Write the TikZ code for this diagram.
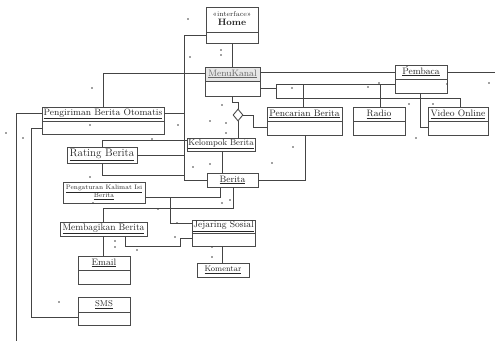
\documentclass[tikz,border=0pt]{standalone}
\usepackage{fontspec}
\usetikzlibrary{shapes.geometric,calc}
\definecolor{boxgray}{HTML}{4A4A4A}
\definecolor{wiregray}{HTML}{444444}
\definecolor{txtgray}{HTML}{262626}
\definecolor{dotgray}{HTML}{444444}
\definecolor{hdrgray}{HTML}{E6E6E6}

% class box with a header compartment: name, x1, y1, x2, y2, separator y, label
\newcommand\umlclass[7]{%
  \node[umlbox, anchor=north west, minimum width={(#4-#2)*1pt}, minimum height={(#5-#3)*1pt}] (#1) at (#2,#3) {};
  \draw[boxline] (#2,#6) -- (#4,#6);
  \node[lbl] at ({(#2+#4)/2},{(#3+#6)/2}) {#7};}
% single-compartment box: name, x1, y1, x2, y2, label
\newcommand\umlplain[6]{%
  \node[umlbox, anchor=north west, minimum width={(#4-#2)*1pt}, minimum height={(#5-#3)*1pt}] (#1) at (#2,#3) {};
  \node[lbl] at ({(#2+#4)/2},{(#3+#5)/2}) {#6};}
\newcommand\uname[1]{\underline{#1}}

\begin{document}
\begin{tikzpicture}[x=1pt,y=-1pt,
  umlbox/.style={draw=boxgray, line width=0.95pt, fill=white, inner sep=0pt, outer sep=0pt},
  boxline/.style={draw=boxgray, line width=0.95pt},
  wire/.style={draw=wiregray, line width=0.85pt},
  lbl/.style={inner sep=0pt, text=txtgray, font=\fontsize{9.3}{10}\selectfont},
  dotmark/.style={fill=dotgray}]
\fill[white] (0,0) rectangle (495,341);
\useasboundingbox (0,0) rectangle (495,341);

% ---- classes ----
\node[umlbox, anchor=north west, minimum width=52pt, minimum height=36pt] (home) at (206,7) {};
\draw[boxline] (206,32) -- (258,32);
\node[lbl, align=center] at (232,19) {{\fontsize{7}{7.5}\selectfont «interface»}\\[-1pt]{\bfseries Home}};

\node[umlbox, anchor=north west, minimum width=55pt, minimum height=29pt] (menu) at (205,67) {};
\fill[hdrgray] (205.5,67.5) rectangle (259.5,81);
\draw[boxline] (205,81) -- (260,81);
\node[lbl, text=black!60] at (232.5,74) {\uname{MenuKanal}};

\umlclass{pembaca}{395}{65}{447}{93}{79}{\uname{Pembaca}}
\umlclass{pengiriman}{42}{107}{164}{134}{121}{\uname{Pengiriman Berita Otomatis}}
\umlclass{pencarian}{267}{107}{342}{135}{121}{\uname{Pencarian Berita}}
\umlclass{radio}{353}{107}{405}{135}{121}{\uname{Radio}}
\umlclass{video}{428}{107}{488}{135}{121}{\uname{Video Online}}
\umlplain{kelompok}{187}{138}{255}{151}{\fontsize{8.5}{9}\selectfont\uname{Kelompok Berita}}
\umlplain{rating}{67}{147}{137}{163}{\fontsize{11}{12}\selectfont\uname{Rating Berita}}
\umlplain{berita}{207}{173}{258}{187}{\uname{Berita}}
\node[umlbox, anchor=north west, minimum width=82pt, minimum height=21pt] (pengaturan) at (63,182) {};
\node[lbl, align=center, font=\fontsize{6.5}{8}\selectfont] at (104,192.5) {\uname{Pengaturan Kalimat Isi}\\\uname{Berita}};
\umlplain{membagikan}{60}{222}{147}{236}{\fontsize{9.5}{10}\selectfont\uname{Membagikan Berita}}
\umlclass{jejaring}{192}{220}{255}{246}{233}{\uname{Jejaring Sosial}}
\umlclass{email}{78}{256}{130}{284}{270}{\uname{Email}}
\umlclass{sms}{78}{297}{130}{325}{312}{\fontsize{8.5}{9}\selectfont\uname{SMS}}
\umlplain{komentar}{197}{263}{249}{277}{\fontsize{8}{9}\selectfont\uname{Komentar}}

% aggregation diamond below MenuKanal
\node[draw=boxgray, fill=white, diamond, line width=0.9pt, minimum width=10pt, minimum height=12pt, inner sep=0pt] (agg) at (238,115) {};

% free ends leaving the sheet
\coordinate (exitS) at (16,341);
\coordinate (exitE) at (495,72);
\coordinate (tap) at (170,197);

% ---- connectors ----
\draw[wire] (home.south) -- (home.south |- menu.north);
\draw[wire] (home.west |- 0,35) -- (184,35) -- (184,180) -- (berita.west |- 0,180);
\draw[wire] (pengiriman.east |- 0,113) -- (184,113);
\draw[wire] (rating.east |- 0,155) -- (184,155);
\draw[wire] (rating.north -| 102,0) -- (102,140) -- (kelompok.west |- 0,140);
\draw[wire] (rating.south -| 102,0) -- (102,175) -- (184,175);
\draw[wire] (pengiriman.north -| 103,0) -- (103,73) -- (menu.west |- 0,73);
\draw[wire] (menu.south -| 232,0) -- (232,102) -- (238,102) -- (agg.north);
\draw[wire] (agg.south) -- (kelompok.north -| agg.south);
\draw[wire] (agg.east) -- (253,115) -- (253,127) -- (pencarian.west |- 0,127);
\draw[wire] (kelompok.south -| 222,0) -- (berita.north -| 222,0);
\draw[wire] (pencarian.south -| 305,0) -- (305,180) -- (berita.east |- 0,180);
\draw[wire] (pengaturan.east |- 0,197) -- (220,197) -- (berita.south -| 220,0);
\draw[wire] (membagikan.north -| 103,0) -- (103,208) -- (233,208) -- (berita.south -| 233,0);
\draw[wire] (tap) -- (170,223) -- (jejaring.west |- 0,223);
\draw[wire] (membagikan.south -| 125,0) -- (125,246) -- (180,246) -- (180,238) -- (jejaring.west |- 0,238);
\draw[wire] (membagikan.south -| 103,0) -- (email.north -| 103,0);
\draw[wire] (jejaring.south -| 222,0) -- (komentar.north -| 222,0);
\draw[wire] (pengiriman.west |- 0,113) -- (16,113) -- (exitS);
\draw[wire] (pengiriman.west |- 0,128) -- (31,128) -- (31,317) -- (sms.west |- 0,317);
\draw[wire] (menu.east |- 0,72) -- (pembaca.west |- 0,72);
\draw[wire] (pembaca.east |- 0,72) -- (exitE);
\draw[wire] (menu.east |- 0,88) -- (276,88);
\draw[wire] (276,84) -- (276,98);
\draw[wire] (276,84) -- (pembaca.west |- 0,84);
\draw[wire] (303,84) -- (pencarian.north -| 303,0);
\draw[wire] (380,84) -- (radio.north -| 380,0);
\draw[wire] (276,98) -- (460,98) -- (video.north -| 460,0);
\draw[wire] (pembaca.south -| 420,0) -- (420,127) -- (video.west |- 0,127);

% ---- multiplicity marks ----
\foreach \p in {(188,19),(221,50),(221,55),(190,57),(92,88),(6,133),(23,138),(90,125),
  (152,139),(178,125),(222,105),(210,121),(226,123),(226,133),(193,167),(210,164),
  (272,163),(293,147),(379,83),(368,87),(447,84),(489,83),(409,104),(433,104),(416,138),
  (292,88),(90,177),(93,203),(158,209),(177,223),(175,237),(115,241),(115,247),(137,250),
  (222,203),(230,200),(212,247),(212,257),(59,302),(407,66)}
  \fill[dotmark] \p circle (0.8);
\end{tikzpicture}
\end{document}
